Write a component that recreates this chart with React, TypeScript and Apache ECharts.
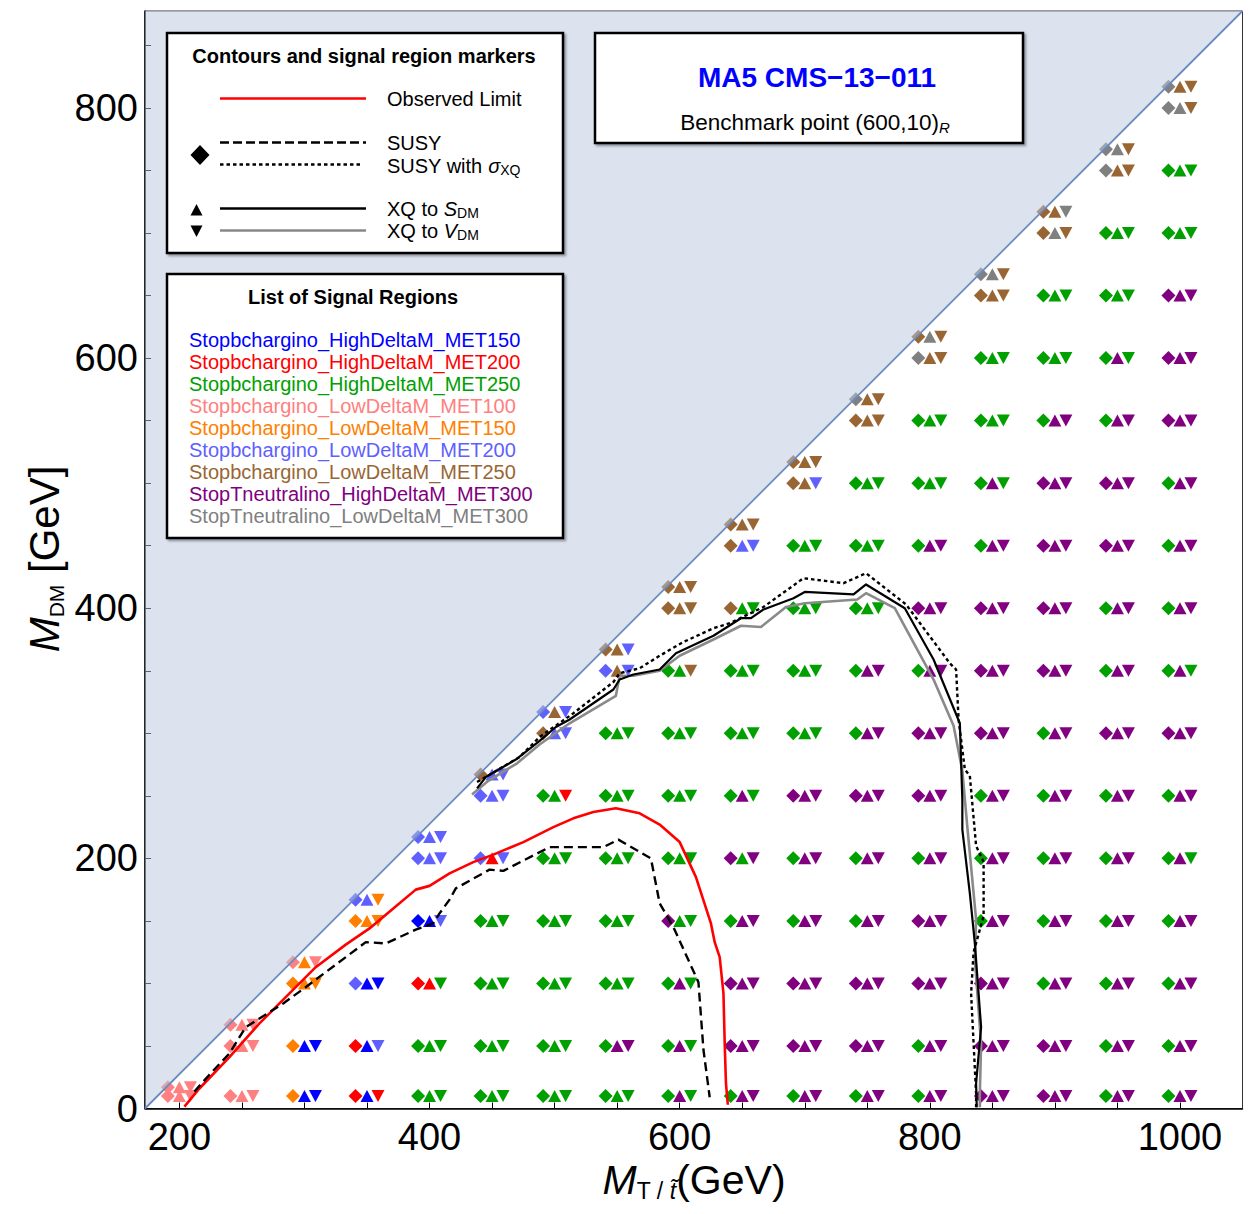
import React, { useEffect, useRef } from 'react';
import * as echarts from 'echarts';

// ---- axis ranges and ticks ----
const X_MIN = 172.5;
const X_MAX = 1050;
const Y_MIN = 0;
const Y_MAX = 877.5;
const xTickValues = [200, 250, 300, 350, 400, 450, 500, 550, 600, 650, 700, 750, 800, 850, 900, 950, 1000];
const xLabelValues = [200, 400, 600, 800, 1000];
const yTickValues = [0, 50, 100, 150, 200, 250, 300, 350, 400, 450, 500, 550, 600, 650, 700, 750, 800, 850];
const yLabelValues = [0, 200, 400, 600, 800];

// ---- signal regions ----
const regionKeys = ['b', 'r', 'g', 'p', 'o', 'l', 'n', 'v', 'y'];
const regionNames = [
  'Stopbchargino_HighDeltaM_MET150',
  'Stopbchargino_HighDeltaM_MET200',
  'Stopbchargino_HighDeltaM_MET250',
  'Stopbchargino_LowDeltaM_MET100',
  'Stopbchargino_LowDeltaM_MET150',
  'Stopbchargino_LowDeltaM_MET200',
  'Stopbchargino_LowDeltaM_MET250',
  'StopTneutralino_HighDeltaM_MET300',
  'StopTneutralino_LowDeltaM_MET300',
];
const regionColors = ['#0000ff', '#ff0000', '#00a000', '#ff8080', '#ff8000', '#6060ff', '#996633', '#800080', '#808080'];

// ---- scanned mass points ----
const stopMasses = [200, 250, 300, 350, 400, 450, 500, 550, 600, 650, 700, 750, 800, 850, 900, 950, 1000];
const dmMasses = [
  [10, 17],
  [10, 50, 67],
  [10, 50, 100, 117],
  [10, 50, 100, 150, 167],
  [10, 50, 100, 150, 200, 217],
  [10, 50, 100, 150, 200, 250, 267],
  [10, 50, 100, 150, 200, 250, 300, 317],
  [10, 50, 100, 150, 200, 250, 300, 350, 367],
  [10, 50, 100, 150, 200, 250, 300, 350, 400, 417],
  [10, 50, 100, 150, 200, 250, 300, 350, 400, 450, 467],
  [10, 50, 100, 150, 200, 250, 300, 350, 400, 450, 500, 517],
  [10, 50, 100, 150, 200, 250, 300, 350, 400, 450, 500, 550, 567],
  [10, 50, 100, 150, 200, 250, 300, 350, 400, 450, 500, 550, 600, 617],
  [10, 50, 100, 150, 200, 250, 300, 350, 400, 450, 500, 550, 600, 650, 667],
  [10, 50, 100, 150, 200, 250, 300, 350, 400, 450, 500, 550, 600, 650, 700, 717],
  [10, 50, 100, 150, 200, 250, 300, 350, 400, 450, 500, 550, 600, 650, 700, 750, 767],
  [10, 50, 100, 150, 200, 250, 300, 350, 400, 450, 500, 550, 600, 650, 700, 750, 800, 817],
];
// best region per point: [SUSY, XQ to S_DM, XQ to V_DM]
const bestRegions = [
  ['ppp', 'ppp'],
  ['ppp', 'ppp', 'ppp'],
  ['obb', 'obb', 'ooo', 'pop'],
  ['rbr', 'rbl', 'lbb', 'ooo', 'llo'],
  ['ggg', 'ggg', 'rrg', 'bbl', 'lll', 'lll'],
  ['ggg', 'ggg', 'ggg', 'ggg', 'lrl', 'lll', 'nll'],
  ['ggg', 'ggg', 'ggg', 'ggg', 'ggg', 'ggr', 'nll', 'lnl'],
  ['ggg', 'gvv', 'ggg', 'ggg', 'ggg', 'ggg', 'ggg', 'lnl', 'nnl'],
  ['gvg', 'gvg', 'gvg', 'vgg', 'ggg', 'ggg', 'ggg', 'ggn', 'nnn', 'nnn'],
  ['gvv', 'vvv', 'vvv', 'gvv', 'vgv', 'gvg', 'ggg', 'ggg', 'ngg', 'nll', 'nnn'],
  ['gvv', 'vvv', 'vvv', 'gvv', 'gvv', 'vvv', 'ggg', 'ggg', 'ggg', 'ggg', 'nnl', 'nnn'],
  ['gvv', 'vvv', 'vvv', 'gvv', 'gvv', 'vvv', 'gvv', 'gvv', 'ggg', 'ggg', 'ggg', 'nnn', 'ynn'],
  ['gvv', 'gvv', 'vvv', 'vvv', 'gvv', 'vvv', 'vvv', 'gvv', 'vvv', 'gvv', 'ggg', 'ggg', 'ynn', 'nyn'],
  ['vvv', 'vvv', 'vvv', 'gvv', 'gvv', 'gvv', 'vvv', 'vvv', 'vvv', 'gvv', 'gvg', 'ggg', 'ggg', 'nnn', 'yyn'],
  ['vvv', 'vvv', 'gvv', 'gvv', 'gvv', 'gvv', 'gvv', 'vvv', 'vvv', 'vvv', 'vvv', 'gvv', 'ggg', 'ggg', 'nyn', 'nny'],
  ['gvv', 'gvv', 'gvv', 'gvv', 'gvv', 'gvv', 'vvv', 'gvv', 'gvv', 'vvv', 'vvv', 'gvv', 'gvg', 'ggg', 'ggg', 'ynn', 'yyn'],
  ['gvv', 'gvv', 'gvv', 'gvv', 'gvg', 'gvv', 'vvv', 'gvg', 'gvv', 'gvv', 'gvv', 'vvv', 'vvv', 'vvv', 'ggg', 'ggg', 'yyn', 'ynn'],
];

// ---- exclusion contours ----
const observedLimit = [
  [204, 1.5], [216, 16], [240, 41], [264, 68], [288, 92], [309, 113], [333, 131], [352, 144],
  [371, 160], [389, 175], [400, 178], [416, 188], [435, 197], [451, 203], [475, 213], [499, 225],
  [515, 232], [531, 237], [549, 240], [568, 236], [584, 227], [600, 213], [613, 185], [625, 148],
  [628, 133], [632, 121], [635, 92], [636, 52], [637, 20], [638.5, 3],
];
const susyLimit = [
  [212, 13.5], [224, 27], [240, 44], [253, 65], [264, 72], [283, 84], [301, 97], [325, 115],
  [349, 133], [365, 132], [389, 143], [403, 148], [408, 156], [416, 167], [421, 176], [448, 191],
  [459, 190], [496, 209], [539, 209], [551, 215], [577, 200], [584, 164], [595, 145], [615, 101],
  [619, 47], [624, 9],
];
const susyXqLimit = [
  [438, 261], [472, 281], [488, 297], [515, 316], [547, 341], [552, 348], [568, 352], [584, 362],
  [603, 373], [627, 384], [640, 388], [667, 401], [699, 424], [731, 420], [749, 428], [781, 403],
  [816, 356], [821, 351], [823, 311], [828, 271], [832, 266], [837, 210], [843, 197], [843, 154],
  [835, 125], [833, 92], [837, 12], [837, 1],
];
const xqScalarLimit = [
  [438, 256], [445, 265], [469, 279], [488, 294], [501, 305], [512, 311], [547, 335], [552, 343],
  [563, 347], [584, 351], [597, 364], [627, 378], [649, 392], [657, 392], [667, 399], [691, 408],
  [700, 413], [739, 411], [749, 419], [780, 400], [803, 359], [824, 308], [826, 247], [826, 223],
  [832, 172], [836, 132], [841, 65], [837, 20], [837.5, 1],
];
const xqVectorLimit = [
  [434, 251], [447, 262], [470, 276], [488, 291], [512, 308], [549, 330], [552, 346], [563, 346],
  [584, 350], [600, 362], [627, 375], [649, 386], [665, 385], [685, 401], [700, 404], [742, 407],
  [749, 412], [772, 400], [803, 343], [819, 306], [826, 270], [830, 225], [837, 151], [836, 119],
  [841, 52], [840, 12], [840, 1],
];

// kinematic boundary M_DM = M_T - m_top and the forbidden region above it
const kinematicEdge = [[X_MIN, Y_MIN], [X_MAX, Y_MAX]];
const forbiddenCorners = [[X_MIN, Y_MIN], [X_MAX, Y_MAX], [X_MIN, Y_MAX]];

const FONT = "'Liberation Sans', Arial, Helvetica, sans-serif";

const colorOf = (key: string) => regionColors[regionKeys.indexOf(key)];

const markerShapes = [
  { name: 'SUSY', symbol: 'diamond', size: [14, 14], offset: [-11.5, 0] },
  { name: 'XQ to S_DM', symbol: 'triangle', size: [13, 12], offset: [0, 0] },
  { name: 'XQ to V_DM', symbol: 'path://M0,0L2,0L1,2Z', size: [13, 12], offset: [11, 0] },
];

function markerSeries() {
  return markerShapes.map((shape, k) => {
    const data: any[] = [];
    stopMasses.forEach((mt, i) => {
      dmMasses[i].forEach((mdm, j) => {
        data.push({ value: [mt, mdm], itemStyle: { color: colorOf(bestRegions[i][j][k]), opacity: 1 } });
      });
    });
    return {
      type: 'scatter',
      name: shape.name,
      symbol: shape.symbol,
      symbolSize: shape.size,
      symbolOffset: shape.offset,
      itemStyle: { opacity: 1 },
      data,
      z: 2,
      silent: true,
    };
  });
}

function contour(data: number[][], color: string, width: number, type: any, z: number) {
  return {
    type: 'line',
    data,
    showSymbol: false,
    symbol: 'none',
    smooth: false,
    lineStyle: { color, width, type, cap: 'butt', join: 'round' },
    z,
    silent: true,
  };
}

// rich text where subscript tokens share the bottom edge of the main tokens,
// which drops their baseline below the main baseline
function subText(x: number, y: number, text: string, main: number, sub: number, extra: any = {}) {
  const raise = extra.raise ?? 1;
  const tok = (size: number, italic: boolean, pad: number) => ({
    fontSize: size,
    fontFamily: FONT,
    fontStyle: italic ? 'italic' : 'normal',
    verticalAlign: 'bottom',
    padding: [0, 0, pad, 0],
    fill: '#000',
  });
  return {
    type: 'text',
    x,
    y,
    z: 100,
    rotation: extra.rotation || 0,
    style: {
      text,
      fill: '#000',
      fontFamily: FONT,
      fontSize: main,
      align: extra.align || 'left',
      verticalAlign: 'middle',
      rich: {
        a: tok(main, false, raise),
        i: tok(main, true, raise),
        s: tok(sub, false, 0),
        si: tok(sub, true, 0),
      },
    },
  };
}

function buildGraphics() {
  const els: any[] = [];
  const box = (x: number, y: number, w: number, h: number) => ({
    type: 'rect',
    z: 90,
    shape: { x, y, width: w, height: h },
    style: {
      fill: '#fff', stroke: '#000', lineWidth: 2.5,
      shadowBlur: 2, shadowColor: 'rgba(0,0,0,0.35)', shadowOffsetX: 2, shadowOffsetY: 2,
    },
  });
  const text = (x: number, y: number, t: string, opts: any = {}) => ({
    type: 'text',
    x,
    y,
    z: 100,
    style: {
      text: t,
      fontFamily: FONT,
      fontSize: opts.fontSize || 20,
      fontWeight: opts.fontWeight || 'normal',
      fill: opts.fill || '#000',
      align: opts.align || 'left',
      verticalAlign: 'middle',
    },
  });
  const hline = (x1: number, x2: number, y: number, stroke: string, lineDash: any = null, lineWidth = 2.5) => ({
    type: 'line',
    z: 100,
    shape: { x1, y1: y, x2, y2: y },
    style: { stroke, lineWidth, lineDash },
  });
  const poly = (points: number[][]) => ({
    type: 'polygon', z: 100, shape: { points }, style: { fill: '#000' },
  });

  // contour / marker key
  els.push(box(167, 33, 396, 220));
  els.push(text(364, 56, 'Contours and signal region markers', { fontWeight: 'bold', align: 'center' }));
  els.push(hline(220, 366, 98.5, '#ff0000'));
  els.push(text(387, 99, 'Observed Limit'));
  els.push(hline(220, 366, 142.5, '#000', [9, 4]));
  els.push(hline(220, 362, 164.5, '#000', [3.5, 3]));
  els.push(text(387, 143, 'SUSY'));
  els.push(subText(387, 166, '{a|SUSY with }{i|σ}{s|XQ}', 20, 14));
  els.push(poly([[200, 145], [209.5, 155], [200, 165], [190.5, 155]]));
  els.push(hline(220, 366, 208.5, '#000'));
  els.push(hline(220, 366, 230.5, '#888'));
  els.push(poly([[196.5, 204], [202.5, 215.5], [190.5, 215.5]]));
  els.push(poly([[190.5, 225.5], [202.5, 225.5], [196.5, 237]]));
  els.push(subText(387, 209, '{a|XQ to }{i|S}{s|DM}', 20, 14));
  els.push(subText(387, 231, '{a|XQ to }{i|V}{s|DM}', 20, 14));

  // signal region list
  els.push(box(167, 274, 396, 264));
  els.push(text(248, 297, 'List of Signal Regions', { fontWeight: 'bold' }));
  regionNames.forEach((name, i) => {
    els.push(text(189, 340 + 22 * i, name, { fill: regionColors[i] }));
  });

  // analysis / benchmark box
  els.push(box(595, 33, 428, 110));
  els.push(text(817, 77, 'MA5 CMS\u221213\u2212011', { fontWeight: 'bold', fontSize: 28, fill: '#0000ff', align: 'center' }));
  els.push(subText(815, 123, '{a|Benchmark point (600,10)}{si|R}', 22.5, 15, { align: 'center' }));

  // axis titles
  els.push(subText(45, 559, '{i|M}{s|DM}{a| [GeV]}', 42, 21, { align: 'center', rotation: Math.PI / 2, raise: 2 }));
  els.push(subText(694, 1181, '{i|M}{s|T / }{si|t\u0303}{a|(GeV)}', 41, 23, { align: 'center', raise: 2 }));
  return els;
}

const axisLabelStyle = { fontSize: 38, color: '#000', fontFamily: FONT, formatter: (v: number) => String(v) };

const option: any = {
  animation: false,
  backgroundColor: '#fff',
  grid: {
    left: 145, top: 11, width: 1097.5, height: 1097.5,
    show: true, borderColor: '#333', borderWidth: 1, backgroundColor: '#fff',
  },
  xAxis: {
    type: 'value',
    min: X_MIN,
    max: X_MAX,
    axisLine: { show: true, onZero: false, lineStyle: { color: '#000', width: 1.5 } },
    axisTick: { show: true, inside: true, length: 6, customValues: xTickValues, lineStyle: { color: '#000', width: 1 } },
    axisLabel: { ...axisLabelStyle, margin: 9, customValues: xLabelValues },
    splitLine: { show: false },
  },
  yAxis: {
    type: 'value',
    min: Y_MIN,
    max: Y_MAX,
    axisLine: { show: true, onZero: false, lineStyle: { color: '#000', width: 1.5 } },
    axisTick: { show: true, inside: true, length: 6, customValues: yTickValues, lineStyle: { color: '#000', width: 1 } },
    axisLabel: { ...axisLabelStyle, margin: 7, customValues: yLabelValues },
    splitLine: { show: false },
  },
  series: [
    ...markerSeries(),
    {
      type: 'custom',
      data: forbiddenCorners,
      encode: { x: 0, y: 1 },
      z: 3,
      silent: true,
      renderItem: (params: any, api: any) => {
        if (params.dataIndex !== 0) return { type: 'group', children: [] };
        const points = forbiddenCorners.map((p) => api.coord(p));
        return { type: 'polygon', shape: { points }, style: { fill: 'rgba(186,200,224,0.5)' } };
      },
    },
    {
      type: 'line',
      data: kinematicEdge,
      showSymbol: false,
      symbol: 'none',
      lineStyle: { color: '#6a8bbf', width: 1.8 },
      z: 4,
      silent: true,
    },
    contour(observedLimit, '#ff0000', 2.6, 'solid', 6),
    contour(susyLimit, '#000', 2.4, [9, 5], 6),
    contour(xqVectorLimit, '#8a8a8a', 2.6, 'solid', 5),
    contour(xqScalarLimit, '#000', 2.2, 'solid', 6),
    contour(susyXqLimit, '#000', 2.4, [3.5, 3], 6),
  ],
  graphic: { elements: buildGraphics() },
};

export default function App() {
  const ref = useRef<HTMLDivElement>(null);
  useEffect(() => {
    const chart = echarts.init(ref.current as HTMLDivElement, null, { renderer: 'svg' });
    chart.setOption(option);
    return () => chart.dispose();
  }, []);
  return (
    <div
      ref={ref}
      style={{ position: 'absolute', left: 0, top: 0, width: 1253, height: 1214 }}
    />
  );
}
